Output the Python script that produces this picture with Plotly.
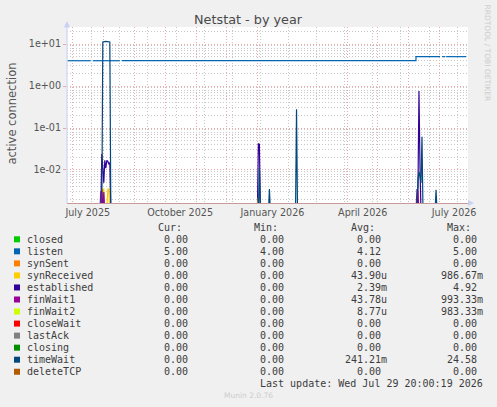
import plotly.graph_objects as go

TITLE = "Netstat - by year"
Y_LABEL = "active connection"
Y_TICK_VALUES = [0.01, 0.1, 1, 10]
Y_TICK_TEXT = ["1e-02", "1e-01", "1e+00", "1e+01"]
X_TICK_VALUES = ["2025-07-16", "2025-10-16", "2026-01-16", "2026-04-16", "2026-07-16"]
X_TICK_TEXT = ["July 2025", "October 2025", "January 2026", "April 2026", "July 2026"]
X_RANGE = ["2025-06-25 08:00", "2026-07-29 20:00"]
Y_LOG_RANGE = [-2.786, 1.405]

names = ["closed", "listen", "synSent", "synReceived", "established", "finWait1",
         "finWait2", "closeWait", "lastAck", "closing", "timeWait", "deleteTCP"]
colors = ["#00CC00", "#0066B3", "#FF8000", "#FFCC00", "#330099", "#990099",
          "#CCFF00", "#FF0000", "#808080", "#008F00", "#00487D", "#B35A00"]
cur_values = ["0.00", "5.00", "0.00", "0.00", "0.00", "0.00",
              "0.00", "0.00", "0.00", "0.00", "0.00", "0.00"]
min_values = ["0.00", "4.00", "0.00", "0.00", "0.00", "0.00",
              "0.00", "0.00", "0.00", "0.00", "0.00", "0.00"]
avg_values = ["0.00", "4.12", "0.00", "43.90u", "2.39m", "43.78u",
              "8.77u", "0.00", "0.00", "0.00", "241.21m", "0.00"]
max_values = ["0.00", "5.00", "0.00", "986.67m", "4.92", "993.33m",
              "983.33m", "0.00", "0.00", "0.00", "24.58", "0.00"]
LAST_UPDATE = "Last update: Wed Jul 29 20:00:19 2026"
VERSION = "Munin 2.0.76"
SIDE_TEXT = "RRDTOOL / TOBI OETIKER"

# ---- series (daily consolidated values) ----
zero_dates = ["2025-06-25 08:00", "2026-07-29 20:00"]
zero_values = [0, 0]

listen_dates = ["2025-06-25 08:00", "2025-07-19", "2025-07-19 12:00", "2025-07-21",
                "2025-08-17", "2025-08-17 12:00", "2025-08-19", "2026-06-08",
                "2026-07-02", "2026-07-02 12:00", "2026-07-04", "2026-07-07",
                "2026-07-07 12:00", "2026-07-08", "2026-07-28"]
listen_values = [4, 4, None, 4, 4, None, 4, 5, 5, None, 5, 5, None, 5, 5]

synreceived_dates = ["2025-06-25 08:00", "2025-07-30", "2025-07-31", "2025-08-01",
                     "2025-08-02", "2025-08-04", "2025-08-05", "2025-08-06",
                     "2025-08-07", "2026-07-29 20:00"]
synreceived_values = [0, 0, 0.0035, 0.0035, 0, 0, 0.0035, 0.0035, 0, 0]

established_dates = ["2025-06-25 08:00", "2025-07-29", "2025-07-30", "2025-07-31",
                     "2025-08-01", "2025-08-02", "2025-08-03", "2025-08-04",
                     "2025-08-05", "2025-08-06", "2025-08-07", "2025-08-08",
                     "2026-01-01", "2026-01-02", "2026-01-03", "2026-01-04",
                     "2026-06-09", "2026-06-10", "2026-06-11", "2026-06-12",
                     "2026-06-13", "2026-07-29 20:00"]
established_values = [0, 0, 0.024, 0.011, 0.005, 0.017, 0.011, 0.017,
                      0.016, 0.014, 0.015, 0,
                      0, 0.042, 0.041, 0,
                      0, 0.004, 0.76, 0.012, 0, 0]

finwait1_dates = ["2025-06-25 08:00", "2025-07-28", "2025-07-29", "2025-07-30",
                  "2025-07-31", "2025-08-01", "2025-08-02", "2026-06-08",
                  "2026-06-09", "2026-06-10", "2026-06-11", "2026-07-29 20:00"]
finwait1_values = [0, 0, 0.003, 0.0032, 0, 0.003, 0, 0, 0.0035, 0.003, 0, 0]

finwait2_dates = ["2025-06-25 08:00", "2026-01-01", "2026-01-02", "2026-01-03",
                  "2026-07-29 20:00"]
finwait2_values = [0, 0, 0.0022, 0, 0]

timewait_dates = ["2025-06-25 08:00", "2025-07-30", "2025-07-31", "2025-08-03",
                  "2025-08-07", "2025-08-08", "2026-01-02", "2026-01-03",
                  "2026-01-04", "2026-01-12", "2026-01-13", "2026-01-14",
                  "2026-02-08", "2026-02-09", "2026-02-10", "2026-06-09",
                  "2026-06-10", "2026-06-11", "2026-06-12", "2026-06-13",
                  "2026-06-14", "2026-06-15", "2026-06-27", "2026-06-28",
                  "2026-06-29", "2026-07-29 20:00"]
timewait_values = [0, 0, 11.2, 11.5, 11.2, 0, 0, 0.011,
                   0, 0, 0.0035, 0,
                   0, 0.28, 0, 0,
                   0.006, 0.009, 0.007, 0.005,
                   0.062, 0, 0, 0.0034, 0, 0]

series = {
    "closed": (zero_dates, zero_values),
    "listen": (listen_dates, listen_values),
    "synSent": (zero_dates, zero_values),
    "synReceived": (synreceived_dates, synreceived_values),
    "established": (established_dates, established_values),
    "finWait1": (finwait1_dates, finwait1_values),
    "finWait2": (finwait2_dates, finwait2_values),
    "closeWait": (zero_dates, zero_values),
    "lastAck": (zero_dates, zero_values),
    "closing": (zero_dates, zero_values),
    "timeWait": (timewait_dates, timewait_values),
    "deleteTCP": (zero_dates, zero_values),
}

FLOOR = 1e-3  # zero cannot be drawn on a log scale; fall below the visible range

# ---- layout geometry (pixels) ----
W, H = 497, 407
L, R, T, B = 67, 468, 27, 203


def px(x):
    return (x - L) / (R - L)


def py(y):
    return (B - y) / (B - T)


RED_GRID = "#eca8a8"
GREY_GRID = "#c8c8c8"
TEXT = "#555555"
LEG_TEXT = "#3c3c3c"
MONO = "DejaVu Sans Mono"
SANS = "DejaVu Sans"

fig = go.Figure()

for name, color in zip(names, colors):
    d, v = series[name]
    yv = [None if val is None else (val if val > 0 else FLOOR) for val in v]
    fig.add_trace(go.Scatter(
        x=d, y=yv, mode="lines", name=name,
        line=dict(color=color, width=1.2, shape="hv" if name == "listen" else "linear"),
        connectgaps=False, showlegend=False, hoverinfo="skip",
    ))

# helper trace for the secondary (4-weekly) grid axis
fig.add_trace(go.Scatter(x=X_RANGE, y=[FLOOR, FLOOR], xaxis="x2", mode="lines",
                         line=dict(width=0), showlegend=False, hoverinfo="skip"))

annotations = []
shapes = []

annotations.append(dict(text=TITLE, x=px(248), y=py(19), xref="paper", yref="paper",
                        showarrow=False, font=dict(family=SANS, size=12.8, color="#4a4a4a"),
                        xanchor="center", yanchor="middle"))
annotations.append(dict(text=Y_LABEL, x=px(11.5), y=py(113), xref="paper", yref="paper",
                        showarrow=False, textangle=-90,
                        font=dict(family=SANS, size=11.5, color=TEXT),
                        xanchor="center", yanchor="middle"))
annotations.append(dict(text=SIDE_TEXT, x=px(487.5), y=py(53), xref="paper", yref="paper",
                        showarrow=False, textangle=90,
                        font=dict(family=SANS, size=7.5, color="#cccccc"),
                        xanchor="center", yanchor="middle"))
annotations.append(dict(text=VERSION, x=px(248), y=py(395), xref="paper", yref="paper",
                        showarrow=False, font=dict(family=SANS, size=7.5, color="#cccccc"),
                        xanchor="center", yanchor="middle"))

# legend table
CW = 6.02
ROW0, ROW_STEP = 239.3, 12.04
col_ends = [193.7, 290.3, 386.6, 482.7]
headers = ["Cur:", "Min:", "Avg:", "Max:"]
columns = [cur_values, min_values, avg_values, max_values]
for h, xe in zip(headers, col_ends):
    annotations.append(dict(text=h, x=px(xe - 2 * CW), y=py(227.3), xref="paper", yref="paper",
                            showarrow=False, xanchor="right", yanchor="middle",
                            borderpad=0, borderwidth=0,
                            font=dict(family=MONO, size=10, color=LEG_TEXT)))
for i, (name, color) in enumerate(zip(names, colors)):
    yrow = ROW0 + i * ROW_STEP
    shapes.append(dict(type="rect", xref="paper", yref="paper",
                       x0=px(14), x1=px(20), y0=py(yrow - 3), y1=py(yrow + 3),
                       fillcolor=color, line=dict(width=0)))
    annotations.append(dict(text=name, x=px(26.5), y=py(yrow), xref="paper", yref="paper",
                            showarrow=False, xanchor="left", yanchor="middle",
                            borderpad=0, borderwidth=0,
                            font=dict(family=MONO, size=10, color=LEG_TEXT)))
    for col, xe in zip(columns, col_ends):
        val = col[i]
        xr = xe if val[-1].isalpha() else xe - CW
        annotations.append(dict(text=val, x=px(xr), y=py(yrow), xref="paper", yref="paper",
                                showarrow=False, xanchor="right", yanchor="middle",
                                borderpad=0, borderwidth=0,
                                font=dict(family=MONO, size=10, color=LEG_TEXT)))
annotations.append(dict(text=LAST_UPDATE, x=px(482.7), y=py(383.3), xref="paper", yref="paper",
                        showarrow=False, xanchor="right", yanchor="middle",
                        borderpad=0, borderwidth=0,
                        font=dict(family=MONO, size=10, color=LEG_TEXT)))

# axis arrows
ARROW = "#c8d0f4"
shapes.append(dict(type="path", xref="paper", yref="paper",
                   path="M {a},{b} L {c},{d} L {e},{f} Z".format(
                       a=px(64), b=py(27.5), c=px(67), d=py(21), e=px(70), f=py(27.5)),
                   fillcolor=ARROW, line=dict(width=0)))
shapes.append(dict(type="path", xref="paper", yref="paper",
                   path="M {a},{b} L {c},{d} L {e},{f} Z".format(
                       a=px(468), b=py(200), c=px(474), d=py(203), e=px(468), f=py(206)),
                   fillcolor=ARROW, line=dict(width=0)))
shapes.append(dict(type="line", xref="paper", yref="paper",
                   x0=px(67), x1=px(67), y0=py(203), y1=py(27),
                   line=dict(color="#d4dbf6", width=1.5), layer="above"))

dot = "1px,2px"
fig.update_layout(
    width=W, height=H,
    margin=dict(l=L, r=W - R, t=T, b=H - B, pad=0),
    paper_bgcolor="#f0f0f0", plot_bgcolor="#ffffff",
    showlegend=False,
    annotations=annotations, shapes=shapes,
    xaxis=dict(
        type="date", range=X_RANGE, tickmode="array",
        tickvals=X_TICK_VALUES, ticktext=X_TICK_TEXT,
        showgrid=False, ticks="", zeroline=False,
        tickfont=dict(family=SANS, size=9.6, color=TEXT),
        showline=True, linecolor="#c89a9a", linewidth=1,
        minor=dict(dtick="M1", tick0="2025-07-01", showgrid=True,
                   gridcolor=RED_GRID, griddash=dot, gridwidth=1, ticks=""),
    ),
    xaxis2=dict(
        type="date", range=X_RANGE, overlaying="x", anchor="y",
        dtick=28 * 86400000, tick0="2025-07-20",
        showgrid=True, gridcolor=GREY_GRID, griddash=dot, gridwidth=1,
        showticklabels=False, ticks="", zeroline=False, showline=False,
    ),
    yaxis=dict(
        type="log", range=Y_LOG_RANGE, tickmode="array",
        tickvals=Y_TICK_VALUES, ticktext=Y_TICK_TEXT,
        showgrid=True, gridcolor=RED_GRID, griddash=dot, gridwidth=1,
        ticks="outside", ticklen=3, tickcolor=RED_GRID,
        tickfont=dict(family=SANS, size=9.6, color=TEXT),
        zeroline=False, showline=False,
        minor=dict(dtick="D1", showgrid=True, gridcolor=GREY_GRID,
                   griddash=dot, gridwidth=1, ticks=""),
    ),
)

fig.write_html("out.html")
